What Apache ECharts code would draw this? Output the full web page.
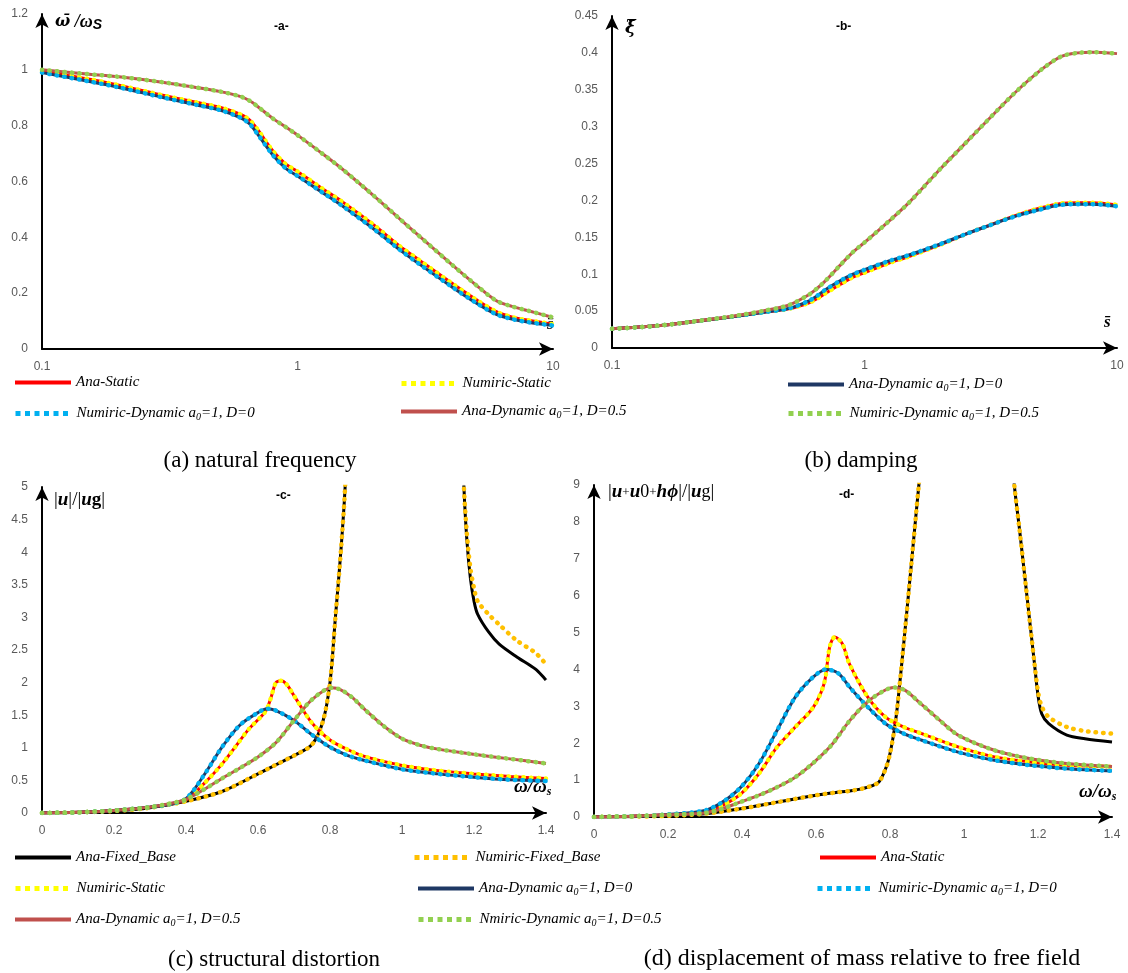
<!DOCTYPE html>
<html>
<head>
<meta charset="utf-8">
<script src="https://cdn.jsdelivr.net/npm/echarts@6/dist/echarts.min.js"></script>
<style>html,body{margin:0;padding:0;background:#fff}#main{width:1128px;height:973px}</style>
</head>
<body>
<div id="main"></div>
<script>
// ---------- Panel (a) natural frequency ----------
const sA = [0.1,0.15,0.2,0.3,0.4,0.5,0.6,0.65,0.7,0.8,0.9,1,1.25,1.5,2,2.5,3,4,5,6,7,8,10];
const aStatic = [0.995,0.968,0.945,0.908,0.884,0.865,0.84,0.82,0.785,0.71,0.662,0.636,0.575,0.527,0.443,0.37,0.318,0.237,0.177,0.134,0.113,0.103,0.089];
const aDyn0   = [0.99,0.96,0.937,0.90,0.875,0.855,0.828,0.806,0.768,0.695,0.647,0.62,0.561,0.512,0.428,0.357,0.304,0.224,0.165,0.124,0.106,0.096,0.084];
const aDyn05  = [1.0,0.985,0.975,0.955,0.937,0.922,0.904,0.889,0.868,0.826,0.795,0.766,0.70,0.644,0.547,0.468,0.404,0.304,0.229,0.173,0.151,0.137,0.113];

// ---------- Panel (b) damping ----------
const sB = [0.1,0.15,0.2,0.3,0.4,0.5,0.6,0.65,0.7,0.8,0.9,1,1.25,1.5,2,2.5,3,4,5,6,7,8,10];
const bStatic = [0.026,0.030,0.035,0.0425,0.0485,0.053,0.061,0.067,0.074,0.086,0.096,0.102,0.115,0.124,0.140,0.154,0.164,0.180,0.190,0.196,0.197,0.197,0.194];
const bDyn0   = [0.026,0.030,0.035,0.0425,0.0485,0.0535,0.0636,0.071,0.079,0.091,0.100,0.106,0.118,0.126,0.141,0.154,0.164,0.179,0.188,0.194,0.195,0.195,0.192];
const bDyn05  = [0.026,0.030,0.035,0.043,0.0505,0.058,0.072,0.081,0.091,0.112,0.130,0.143,0.172,0.197,0.243,0.277,0.305,0.348,0.377,0.395,0.400,0.401,0.399];

// ---------- Panel (c) structural distortion ----------
const cFixX   = [0,0.1,0.2,0.3,0.4,0.5,0.6,0.65,0.7,0.75,0.78,0.8,0.815,0.83,0.842,0.86,1.0,1.155,1.172,1.18,1.19,1.2,1.21,1.24,1.27,1.32,1.37,1.4];
const cFixAna = [0,0.01,0.03,0.08,0.18,0.33,0.6,0.74,0.88,1.05,1.4,2.0,3.0,4.0,5.0,7.5,'-',7.5,5.0,4.2,3.6,3.25,3.05,2.78,2.59,2.39,2.21,2.04];
const cFixNum = [0,0.01,0.03,0.08,0.18,0.33,0.6,0.74,0.88,1.05,1.4,2.0,3.0,4.0,5.0,7.5,'-',7.5,5.0,4.3,3.75,3.45,3.25,3.05,2.89,2.64,2.46,2.28];
const cStaX   = [0,0.1,0.2,0.3,0.35,0.4,0.45,0.5,0.535,0.575,0.62,0.635,0.65,0.665,0.68,0.7,0.75,0.8,0.85,0.9,1.0,1.1,1.2,1.3,1.4];
const cSta    = [0,0.01,0.04,0.09,0.13,0.2,0.45,0.75,1.0,1.29,1.55,1.75,2.0,2.03,1.97,1.8,1.38,1.12,0.97,0.86,0.73,0.65,0.6,0.56,0.53];
const cDyn0X  = [0,0.1,0.2,0.3,0.35,0.4,0.45,0.5,0.55,0.6,0.625,0.65,0.7,0.75,0.8,0.85,0.9,1.0,1.1,1.2,1.3,1.4];
const cDyn0   = [0,0.01,0.04,0.09,0.13,0.22,0.58,1.01,1.35,1.54,1.6,1.57,1.42,1.2,1.01,0.88,0.8,0.67,0.6,0.55,0.51,0.49];
const cDyn05X = [0,0.1,0.2,0.3,0.35,0.4,0.45,0.5,0.55,0.6,0.65,0.7,0.75,0.805,0.83,0.86,0.9,0.95,1.0,1.05,1.1,1.2,1.3,1.4];
const cDyn05  = [0,0.01,0.04,0.09,0.14,0.21,0.36,0.53,0.69,0.86,1.08,1.42,1.74,1.92,1.89,1.78,1.57,1.33,1.14,1.04,0.98,0.9,0.83,0.76];

// ---------- Panel (d) displacement of mass relative to free field ----------
const dFixX   = [0,0.1,0.2,0.3,0.4,0.5,0.6,0.65,0.7,0.74,0.77,0.79,0.8,0.81,0.82,0.84,0.86,0.878,0.9,1.0,1.12,1.136,1.15,1.17,1.19,1.2,1.21,1.229,1.278,1.327,1.4];
const dFixAna = [0,0.01,0.03,0.09,0.23,0.41,0.59,0.66,0.72,0.81,0.95,1.36,1.72,2.26,3.0,5.0,7.1,9.0,11,'-',11,9.0,7.8,6.0,4.2,3.3,2.8,2.53,2.22,2.12,2.03];
const dFixNum = [0,0.01,0.03,0.09,0.23,0.41,0.59,0.66,0.72,0.81,0.95,1.36,1.72,2.26,3.0,5.0,7.1,9.0,11,'-',11,9.0,7.8,6.0,4.2,3.4,3.0,2.71,2.44,2.33,2.26];
const dStaX   = [0,0.1,0.2,0.3,0.348,0.397,0.446,0.495,0.544,0.593,0.622,0.637,0.651,0.671,0.69,0.74,0.788,0.837,0.886,0.984,1.082,1.18,1.278,1.4];
const dSta    = [0,0.02,0.06,0.14,0.32,0.63,1.18,1.9,2.44,2.98,3.62,4.61,4.88,4.7,4.16,3.25,2.71,2.44,2.26,1.9,1.63,1.49,1.40,1.36];
const dDyn0X  = [0,0.1,0.2,0.3,0.348,0.397,0.446,0.495,0.544,0.593,0.627,0.661,0.69,0.74,0.788,0.837,0.886,0.984,1.082,1.18,1.278,1.4];
const dDyn0   = [0,0.02,0.07,0.18,0.41,0.81,1.45,2.35,3.25,3.8,4.0,3.89,3.53,2.98,2.53,2.26,2.08,1.76,1.54,1.40,1.31,1.25];
const dDyn05X = [0,0.1,0.2,0.3,0.348,0.397,0.446,0.495,0.544,0.593,0.642,0.69,0.74,0.785,0.81,0.84,0.88,0.93,0.984,1.082,1.18,1.278,1.4];
const dDyn05  = [0,0.02,0.06,0.11,0.23,0.41,0.59,0.81,1.08,1.47,1.95,2.6,3.13,3.43,3.51,3.44,3.1,2.66,2.22,1.81,1.58,1.45,1.37];

// ---------- Series names / legend labels ----------
const N = {
  fixA: 'Ana-Fixed_Base', fixN: 'Numiric-Fixed_Base',
  staA: 'Ana-Static', staN: 'Numiric-Static',
  d0A: 'Ana-Dynamic a0=1, D=0', d0N: 'Numiric-Dynamic a0=1, D=0',
  d5A: 'Ana-Dynamic a0=1, D=0.5', d5N: 'Numiric-Dynamic a0=1, D=0.5'
};
const C = {
  fixA:'#000000', fixN:'#ffc000', staA:'#ff0000', staN:'#ffff00',
  d0A:'#1f3864', d0N:'#00b0f0', d5A:'#c0504d', d5N:'#92d050'
};
const isDotted = (key) => key.slice(-1) === 'N';

const zip = (xs, ys) => xs.map((x, i) => [x, ys[i]]);
const solid = (key, g, data) => ({
  name: N[key], type: 'line', xAxisIndex: g, yAxisIndex: g, data,
  symbol: 'none', smooth: 0.3, clip: true,
  lineStyle: { color: C[key], width: 3 }, itemStyle: { color: C[key] }
});
const dotted = (key, g, data) => ({
  name: N[key], type: 'line', xAxisIndex: g, yAxisIndex: g, data,
  symbol: 'none', smooth: 0.3, clip: true,
  lineStyle: { color: C[key], width: 4.5, type: [0.5, 7], cap: 'round' }, itemStyle: { color: C[key] }
});

const series = [
  solid('staA', 0, zip(sA, aStatic)), dotted('staN', 0, zip(sA, aStatic)),
  solid('d0A', 0, zip(sA, aDyn0)),   dotted('d0N', 0, zip(sA, aDyn0)),
  solid('d5A', 0, zip(sA, aDyn05)),  dotted('d5N', 0, zip(sA, aDyn05)),

  solid('staA', 1, zip(sB, bStatic)), dotted('staN', 1, zip(sB, bStatic)),
  solid('d0A', 1, zip(sB, bDyn0)),   dotted('d0N', 1, zip(sB, bDyn0)),
  solid('d5A', 1, zip(sB, bDyn05)),  dotted('d5N', 1, zip(sB, bDyn05)),

  solid('fixA', 2, zip(cFixX, cFixAna)), dotted('fixN', 2, zip(cFixX, cFixNum)),
  solid('staA', 2, zip(cStaX, cSta)),    dotted('staN', 2, zip(cStaX, cSta)),
  solid('d0A', 2, zip(cDyn0X, cDyn0)),   dotted('d0N', 2, zip(cDyn0X, cDyn0)),
  solid('d5A', 2, zip(cDyn05X, cDyn05)), dotted('d5N', 2, zip(cDyn05X, cDyn05)),

  solid('fixA', 3, zip(dFixX, dFixAna)), dotted('fixN', 3, zip(dFixX, dFixNum)),
  solid('staA', 3, zip(dStaX, dSta)),    dotted('staN', 3, zip(dStaX, dSta)),
  solid('d0A', 3, zip(dDyn0X, dDyn0)),   dotted('d0N', 3, zip(dDyn0X, dDyn0)),
  solid('d5A', 3, zip(dDyn05X, dDyn05)), dotted('d5N', 3, zip(dDyn05X, dDyn05))
];

// ---------- Axes ----------
const tickFont = { color: '#595959', fontSize: 12, fontFamily: 'Liberation Sans' };
const axLine = { lineStyle: { color: '#000', width: 2 }, symbol: ['none', 'arrow'], symbolSize: [10, 14] };
const xAx = (g, o) => Object.assign({
  gridIndex: g, axisLine: axLine, axisTick: { show: false }, splitLine: { show: false },
  axisLabel: Object.assign({ margin: 12 }, tickFont)
}, o);
const yAx = (g, o) => Object.assign({
  gridIndex: g, type: 'value', axisLine: Object.assign({ onZero: false }, axLine), axisTick: { show: false }, splitLine: { show: false },
  axisLabel: Object.assign({ margin: 14 }, tickFont)
}, o);

// ---------- Legends ----------
const legRich = {
  t: { fontFamily: 'Liberation Serif', fontStyle: 'italic', fontSize: 15, color: '#000' },
  s: { fontFamily: 'Liberation Serif', fontStyle: 'italic', fontSize: 10, color: '#000', padding: [8, 0, 0, 0] }
};
const fmtLabel = (txt) => {
  const p = txt.split('a0');
  if (p.length === 1) return '{t|' + txt + '}';
  return '{t|' + p[0] + 'a}{s|0}{t|' + p[1] + '}';
};
const leg = (key, left, top, label) => ({
  data: [N[key]], left, top, padding: 0, itemWidth: 56, itemHeight: 12, selectedMode: false,
  itemStyle: { opacity: 0 },
  lineStyle: isDotted(key) ? { width: 5, type: [5, 4.5], cap: 'butt' } : { width: 4, type: 'solid' },
  formatter: () => fmtLabel(label || N[key]),
  textStyle: { rich: legRich }
});
const legends = [
  leg('staA', 13, 375), leg('staN', 399, 376), leg('d0A', 786, 377),
  leg('d0N', 13, 406), leg('d5A', 399, 404), leg('d5N', 786, 406),
  leg('fixA', 13, 850), leg('fixN', 412, 850), leg('staA', 818, 850),
  leg('staN', 13, 881), leg('d0A', 416, 881), leg('d0N', 815, 881),
  leg('d5A', 13, 912), leg('d5N', 416, 912, 'Nmiric-Dynamic a0=1, D=0.5')
];

// ---------- Texts ----------
const serifBI = { fontFamily: 'Liberation Serif', fontStyle: 'italic', fontWeight: 'bold', fill: '#000' };
const txt = (x, y, text, style) => ({ type: 'text', left: x, top: y, style: Object.assign({ text }, style) });
const cap = (x, y, text, size) => ({ type: 'text', x, y, style: { text, font: (size || 23) + 'px "Liberation Serif"', fill: '#000', align: 'center' } });
const graphics = [
  txt(274, 21, '-a-', { font: 'bold 12px "Liberation Sans"', fill: '#000' }),
  txt(836, 21, '-b-', { font: 'bold 12px "Liberation Sans"', fill: '#000' }),
  txt(276, 490, '-c-', { font: 'bold 12px "Liberation Sans"', fill: '#000' }),
  txt(839, 489, '-d-', { font: 'bold 12px "Liberation Sans"', fill: '#000' }),
  { type: 'text', left: 55, top: 13, style: { text: '{a|ω\u0304}{c| /ω}{b|S}', rich: {
      a: { fontFamily: 'DejaVu Serif', fontStyle: 'italic', fontWeight: 'bold', fontSize: 16, fill: '#000' },
      c: Object.assign({ fontSize: 18 }, serifBI),
      b: { fontFamily: 'Liberation Sans', fontStyle: 'italic', fontWeight: 'bold', fontSize: 14, fill: '#000', padding: [6, 0, 0, 0] } } } },
  txt(625, 19, 'ξ\u0304', { fontFamily: 'DejaVu Serif', fontStyle: 'italic', fontWeight: 'bold', fontSize: 18, fill: '#000' }),
  txt(547, 316, 's\u0304', Object.assign({ fontSize: 17 }, serifBI)),
  txt(1104, 314, 's\u0304', Object.assign({ fontSize: 17 }, serifBI)),
  { type: 'text', left: 54, top: 491, style: { text: '|{u|u}|/|{u|u}{g|g}|', fontFamily: 'Liberation Serif', fontSize: 19, fill: '#000',
      rich: { u: Object.assign({ fontSize: 19 }, serifBI), g: { fontFamily: 'Liberation Serif', fontWeight: 'bold', fontSize: 19, fill: '#000' } } } },
  { type: 'text', left: 608, top: 483, style: { text: '|{u|u}{p|+}{u|u}{g|0}{p|+}{u|hϕ}|/|{u|u}{g|g}|', fontFamily: 'Liberation Serif', fontSize: 19, fill: '#000',
      rich: { u: Object.assign({ fontSize: 19 }, serifBI), p: { fontFamily: 'Liberation Serif', fontSize: 13, fill: '#000' },
              g: { fontFamily: 'Liberation Serif', fontSize: 18, fill: '#000' } } } },
  { type: 'text', left: 514, top: 778, style: { text: '{w|ω/ω}{s|s}', rich: {
      w: Object.assign({ fontSize: 19 }, serifBI), s: Object.assign({ fontSize: 12, padding: [8, 0, 0, 0] }, serifBI) } } },
  { type: 'text', left: 1079, top: 783, style: { text: '{w|ω/ω}{s|s}', rich: {
      w: Object.assign({ fontSize: 19 }, serifBI), s: Object.assign({ fontSize: 12, padding: [8, 0, 0, 0] }, serifBI) } } },
  cap(260, 449, '(a) natural frequency'),
  cap(861, 449, '(b) damping'),
  cap(274, 948, '(c) structural distortion'),
  cap(862, 947, '(d) displacement of mass relative to free field', 24)
];

const chart = echarts.init(document.getElementById('main'), null, { renderer: 'canvas' });
chart.setOption({
  animation: false,
  backgroundColor: '#fff',
  grid: [
    { left: 42, top: 14, width: 511, height: 335 },
    { left: 612, top: 16, width: 505, height: 332 },
    { left: 42, top: 487, width: 504, height: 326 },
    { left: 594, top: 485, width: 518, height: 332 }
  ],
  xAxis: [
    xAx(0, { type: 'log', logBase: 10, min: 0.1, max: 10 }),
    xAx(1, { type: 'log', logBase: 10, min: 0.1, max: 10 }),
    xAx(2, { type: 'value', min: 0, max: 1.4, interval: 0.2 }),
    xAx(3, { type: 'value', min: 0, max: 1.4, interval: 0.2 })
  ],
  yAxis: [
    yAx(0, { min: 0, max: 1.2, interval: 0.2 }),
    yAx(1, { min: 0, max: 0.45, interval: 0.05 }),
    yAx(2, { min: 0, max: 5, interval: 0.5 }),
    yAx(3, { min: 0, max: 9, interval: 1 })
  ],
  legend: legends,
  graphic: graphics,
  series
});
</script>
</body>
</html>
